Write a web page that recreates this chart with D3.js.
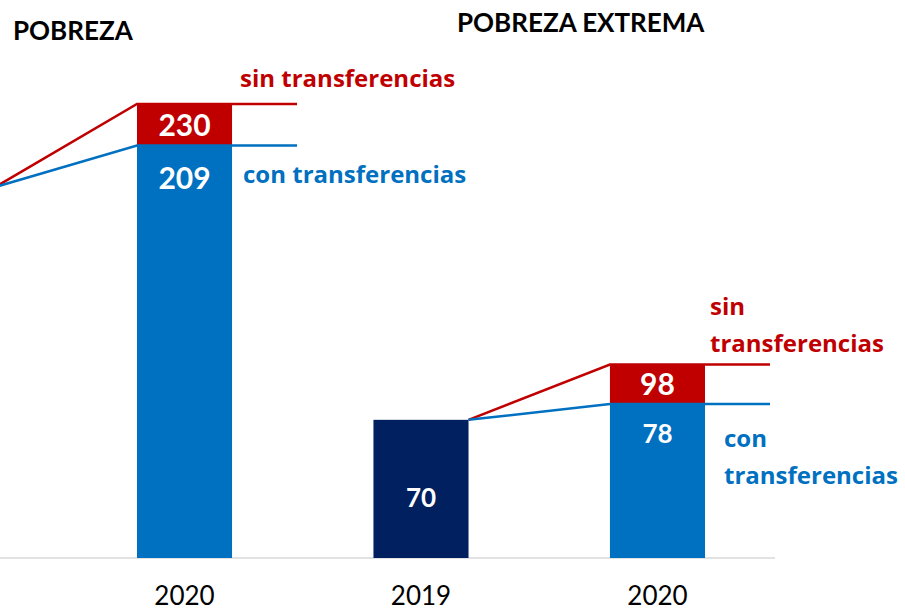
<!DOCTYPE html>
<html>
<head>
<meta charset="utf-8">
<script src="https://cdn.jsdelivr.net/npm/d3@7"></script>
<style>
  body { margin: 0; background: #fff; }
  svg { display: block; font-family: Lato, "Open Sans", sans-serif; }
</style>
</head>
<body>
<svg id="chart" width="905" height="611"></svg>
<script>
// datos (miles de personas)
const paneles = ["POBREZA", "POBREZA EXTREMA"];
const anios = ["2019", "2020"];
const conTransf = [[188, 209], [70, 78]];
const sinTransf = [[188, 230], [70, 98]];
const etiquetaSin = [["sin transferencias"], ["sin", "transferencias"]];
const etiquetaCon = [["con transferencias"], ["con", "transferencias"]];

const rojo = "#C00000", azul = "#0070C0", marino = "#002060";

const width = 905, height = 611;
const svg = d3.select("#chart");

const claves = [];
paneles.forEach((p, i) => anios.forEach(a => claves.push(i + "-" + a)));

const x = d3.scaleBand()
    .domain(claves)
    .range([-99.5, 705])
    .paddingInner(0.598)
    .paddingOuter(0);

const y = d3.scaleLinear()
    .domain([0, 230])
    .range([558, 104]);

const bw = x.bandwidth();
const ext = 65;

// linea base
svg.append("line")
    .attr("x1", 0).attr("x2", 775)
    .attr("y1", y(0)).attr("y2", y(0))
    .attr("stroke", "#d9d9d9")
    .attr("stroke-width", 1.5);

// etiquetas de anio (la de 2019 de pobreza queda fuera del recorte)
const eje = svg.append("g")
    .attr("transform", `translate(0,${y(0)})`)
    .call(d3.axisBottom(x).tickSize(0).tickPadding(0).tickFormat(d => d.split("-")[1]));
eje.select(".domain").remove();
eje.selectAll(".tick").filter(d => x(d) + bw / 2 < 0).remove();
eje.selectAll("text")
    .attr("dy", null)
    .attr("y", 47)
    .style("font-family", "Lato, sans-serif")
    .style("font-size", "26px")
    .attr("fill", "#000");

const linea = d3.line();

paneles.forEach((p, i) => {
    const k0 = i + "-2019", k1 = i + "-2020";
    const x0 = x(k0), x1 = x(k1);
    const v0 = conTransf[i][0], vc = conTransf[i][1], vs = sinTransf[i][1];

    // barra 2019
    svg.append("rect")
        .attr("x", x0).attr("width", bw)
        .attr("y", y(v0)).attr("height", y(0) - y(v0))
        .attr("fill", marino);

    // barra 2020 con transferencias
    svg.append("rect")
        .attr("x", x1).attr("width", bw)
        .attr("y", y(vc)).attr("height", y(0) - y(vc))
        .attr("fill", azul);

    // diferencia sin transferencias
    svg.append("rect")
        .attr("x", x1).attr("width", bw)
        .attr("y", y(vs)).attr("height", y(vc) - y(vs))
        .attr("fill", rojo);

    // lineas de conexion
    svg.append("path")
        .attr("d", linea([[x0 + bw, y(sinTransf[i][0])], [x1, y(vs)], [x1 + bw + ext, y(vs)]]))
        .attr("fill", "none").attr("stroke", rojo).attr("stroke-width", 2.5);
    svg.append("path")
        .attr("d", linea([[x0 + bw, y(v0)], [x1, y(vc)], [x1 + bw + ext, y(vc)]]))
        .attr("fill", "none").attr("stroke", azul).attr("stroke-width", 2.5);

    // valores
    if (x0 > 0) {
        svg.append("text")
            .attr("x", x0 + bw / 2).attr("y", (y(v0) + y(0)) / 2 + 18)
            .attr("text-anchor", "middle").attr("fill", "#fff")
            .style("font-weight", 700).style("font-size", "26px")
            .text(v0);
    }
    svg.append("text")
        .attr("x", x1 + bw / 2).attr("y", (y(vs) + y(vc)) / 2 + 11)
        .attr("text-anchor", "middle").attr("fill", "#fff")
        .style("font-weight", 700).style("font-size", "30px")
        .text(vs);
    svg.append("text")
        .attr("x", x1 + bw / 2).attr("y", y(vc) + (i === 0 ? 44 : 39))
        .attr("text-anchor", "middle").attr("fill", "#fff")
        .style("font-weight", 700).style("font-size", (i === 0 ? 30 : 26) + "px")
        .text(vc);

    // leyendas
    const lh = 37;
    const ns = etiquetaSin[i].length;
    svg.append("text")
        .attr("fill", rojo)
        .style("font-family", "'Open Sans', sans-serif")
        .style("font-weight", 700).style("font-size", "24px")
        .selectAll("tspan").data(etiquetaSin[i]).join("tspan")
        .attr("x", x1 + bw + (i === 0 ? 8 : 5))
        .attr("y", (d, j) => y(vs) - (i === 0 ? 17 : 13) - (ns - 1 - j) * lh)
        .text(d => d);
    svg.append("text")
        .attr("fill", azul)
        .style("font-family", "'Open Sans', sans-serif")
        .style("font-weight", 700).style("font-size", "24px")
        .selectAll("tspan").data(etiquetaCon[i]).join("tspan")
        .attr("x", x1 + bw + (i === 0 ? 11 : 19))
        .attr("y", (d, j) => y(vc) + (i === 0 ? 38 : 43) + j * lh)
        .text(d => d);

    // titulos
    svg.append("text")
        .attr("x", i === 0 ? 13 : 457)
        .attr("y", i === 0 ? 40 : 32)
        .attr("fill", "#000")
        .style("font-weight", 700).style("font-size", "26px")
        .text(p);
});
</script>
</body>
</html>
